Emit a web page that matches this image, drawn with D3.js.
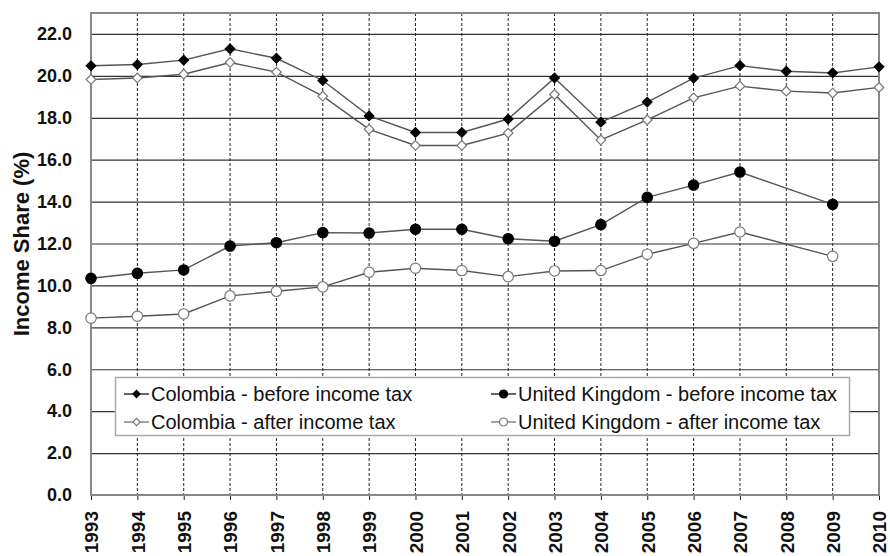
<!DOCTYPE html>
<html>
<head>
<meta charset="utf-8">
<script src="https://cdn.jsdelivr.net/npm/d3@7"></script>
<style>
  html, body { margin: 0; padding: 0; background: #fff; }
  svg { display: block; font-family: "Liberation Sans", Arial, sans-serif; }
</style>
</head>
<body>
<svg width="890" height="556"></svg>
<script>
// data
const years = [1993, 1994, 1995, 1996, 1997, 1998, 1999, 2000, 2001, 2002,
               2003, 2004, 2005, 2006, 2007, 2008, 2009, 2010];
const colombiaBefore = [20.48, 20.54, 20.75, 21.29, 20.84, 19.78, 18.09, 17.30, 17.30, 17.94,
                        19.90, 17.79, 18.75, 19.89, 20.49, 20.22, 20.14, 20.43];
const colombiaAfter = [19.83, 19.90, 20.08, 20.64, 20.18, 19.03, 17.45, 16.68, 16.68, 17.27,
                       19.11, 16.94, 17.90, 18.95, 19.51, 19.27, 19.18, 19.45];
const ukBefore = [10.34, 10.58, 10.74, 11.88, 12.04, 12.52, 12.50, 12.68, 12.68, 12.23,
                  12.11, 12.90, 14.20, 14.79, 15.41, null, 13.87, null];
const ukAfter = [8.44, 8.53, 8.64, 9.50, 9.72, 9.93, 10.63, 10.82, 10.71, 10.42,
                 10.69, 10.71, 11.49, 12.01, 12.55, null, 11.39, null];
const yTicks = [0, 2, 4, 6, 8, 10, 12, 14, 16, 18, 20, 22];
const yAxisLabel = "Income Share (%)";

const series = [
  { name: "Colombia - before income tax", values: colombiaBefore, shape: "diamond", fill: "#000", stroke: "#000" },
  { name: "Colombia - after income tax", values: colombiaAfter, shape: "diamond", fill: "#fff", stroke: "#777" },
  { name: "United Kingdom - before income tax", values: ukBefore, shape: "circle", fill: "#000", stroke: "#000" },
  { name: "United Kingdom - after income tax", values: ukAfter, shape: "circle", fill: "#fff", stroke: "#777" }
];

const svg = d3.select("svg");
const margin = { top: 13, right: 11, bottom: 61, left: 91 };
const width = +svg.attr("width");
const height = +svg.attr("height");
const innerWidth = width - margin.left - margin.right;
const innerHeight = height - margin.top - margin.bottom;

const xScale = d3.scaleLinear().domain([1993, 2010]).range([0, innerWidth]);
const yScale = d3.scaleLinear().domain([0, 23]).range([innerHeight, 0]);

const g = svg.append("g").attr("transform", `translate(${margin.left},${margin.top})`);

// horizontal grid + y labels
const yAxisG = g.append("g").call(
  d3.axisLeft(yScale).tickValues(yTicks).tickSize(-innerWidth).tickPadding(19).tickFormat(d3.format(".1f"))
);
yAxisG.select(".domain").remove();
yAxisG.selectAll(".tick line").attr("stroke", "#333").attr("stroke-width", 1.2);
yAxisG.selectAll(".tick text")
  .attr("font-size", 18).attr("font-weight", "bold").attr("fill", "#111")
  .attr("font-family", "Liberation Sans, Arial, sans-serif");

// vertical dashed grid
g.append("g").selectAll("line").data(years.slice(1, -1)).join("line")
  .attr("x1", (d) => xScale(d)).attr("x2", (d) => xScale(d))
  .attr("y1", 0).attr("y2", innerHeight)
  .attr("stroke", "#222").attr("stroke-width", 1).attr("stroke-dasharray", "3,2");

// x axis
const xAxisG = g.append("g").attr("transform", `translate(0,${innerHeight})`).call(
  d3.axisBottom(xScale).tickValues(years).tickSize(5).tickPadding(6).tickFormat(d3.format("d"))
);
xAxisG.select(".domain").remove();
xAxisG.selectAll(".tick line").attr("stroke", "#222");
xAxisG.selectAll(".tick text")
  .attr("font-size", 19).attr("font-weight", "bold").attr("fill", "#111")
  .attr("font-family", "Liberation Sans, Arial, sans-serif")
  .attr("text-anchor", "end")
  .attr("transform", "rotate(-90)")
  .attr("x", -16).attr("y", 0).attr("dy", "0.36em");

// plot frame
g.append("rect")
  .attr("width", innerWidth).attr("height", innerHeight)
  .attr("fill", "none").attr("stroke", "#888").attr("stroke-width", 2);

// y label
svg.append("text")
  .attr("transform", `translate(21,${margin.top + 231}) rotate(-90)`)
  .attr("text-anchor", "middle").attr("dy", "0.35em")
  .attr("font-size", 22).attr("font-weight", "bold").attr("fill", "#111")
  .text(yAxisLabel);

// diamond = rotated square, circle otherwise
const drawMarker = (sel, s, r) => {
  if (s.shape === "diamond") {
    sel.append("path").attr("d", d3.symbol().type(d3.symbolSquare).size(r * r * 2)())
      .attr("transform", "rotate(45)")
      .attr("fill", s.fill).attr("stroke", s.stroke).attr("stroke-width", 1.2);
  } else {
    sel.append("circle").attr("r", r)
      .attr("fill", s.fill).attr("stroke", s.stroke).attr("stroke-width", 1.2);
  }
};

const lineGen = d3.line()
  .x((d) => xScale(d.year))
  .y((d) => yScale(d.value));

series.forEach((s) => {
  const pts = years.map((y, i) => ({ year: y, value: s.values[i] })).filter((d) => d.value != null);
  g.append("path").datum(pts)
    .attr("d", lineGen).attr("fill", "none")
    .attr("stroke", "#555").attr("stroke-width", 1.4);
  const m = g.append("g").selectAll("g").data(pts).join("g")
    .attr("transform", (d) => `translate(${xScale(d.year)},${yScale(d.value)})`);
  drawMarker(m, s, s.shape === "diamond" ? 4.8 : 5.2);
});

// legend
const legend = svg.append("g");
legend.append("rect")
  .attr("x", 115.5).attr("y", 377.5).attr("width", 734).attr("height", 58)
  .attr("fill", "#fff").attr("stroke", "#aaa").attr("stroke-width", 1.5);
const legendPos = [[124, 394], [124, 422], [491, 394], [491, 422]];
series.forEach((s, i) => {
  const [lx, ly] = legendPos[i];
  const item = legend.append("g").attr("transform", `translate(${lx},${ly})`);
  item.append("line").attr("x1", 0).attr("x2", 25).attr("y1", 0).attr("y2", 0)
    .attr("stroke", s.fill === "#000" ? "#000" : "#666").attr("stroke-width", 1.2);
  const mk = item.append("g").attr("transform", "translate(12.5,0)");
  drawMarker(mk, s, s.shape === "diamond" ? 3.6 : 4);
  item.append("text").attr("x", 27).attr("dy", "0.35em")
    .attr("font-size", 20).attr("fill", "#111")
    .text(s.name);
});
</script>
</body>
</html>
